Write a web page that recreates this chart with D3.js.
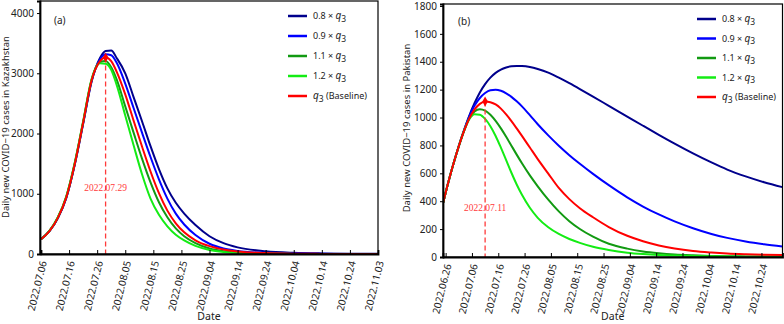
<!DOCTYPE html>
<html>
<head>
<meta charset="utf-8">
<script src="https://cdn.jsdelivr.net/npm/d3@7"></script>
<style>
  body { margin: 0; background: #fff; }
  svg { display: block; font-family: "Noto Sans", sans-serif; }
</style>
</head>
<body>
<div id="chart"></div>
<script>
// ---- Kazakhstan (a) ----
const kzStart = "2022.07.06";
const kzEnd = "2022.11.03";
const kzDay = [0, 3, 6, 9, 12, 15, 18, 21, 23, 25, 27, 30, 33, 36, 39, 42, 45, 48, 51, 55, 60, 65, 70, 80, 90, 100, 110, 120];
const kz08 = [245, 378, 595, 930, 1480, 2160, 2860, 3255, 3370, 3380, 3250, 3000, 2600, 2200, 1790, 1410, 1090, 850, 670, 480, 295, 180, 110, 45, 20, 10, 6, 4];
const kz09 = [245, 379, 598, 935, 1485, 2170, 2870, 3230, 3315, 3300, 3170, 2830, 2420, 2010, 1610, 1240, 920, 670, 490, 315, 170, 92, 52, 18, 7, 3, 1, 0.5];
const kz11 = [245, 383, 606, 950, 1503, 2190, 2890, 3185, 3205, 3100, 2890, 2450, 2010, 1580, 1190, 860, 610, 425, 295, 180, 92, 47, 25, 7, 2, 0.5, 0, 0];
const kz12 = [245, 385, 610, 955, 1510, 2200, 2900, 3165, 3160, 3060, 2800, 2300, 1800, 1320, 920, 650, 460, 320, 225, 135, 68, 34, 18, 5, 1, 0, 0, 0];
const kzBase = [245, 380, 600, 940, 1490, 2180, 2880, 3200, 3260, 3200, 3020, 2650, 2210, 1780, 1370, 1010, 720, 510, 360, 228, 130, 75, 43, 15, 5, 2, 1, 0];
const kzTicks = ["2022.07.06", "2022.07.16", "2022.07.26", "2022.08.05", "2022.08.15", "2022.08.25", "2022.09.04", "2022.09.14", "2022.09.24", "2022.10.04", "2022.10.14", "2022.10.24", "2022.11.03"];
const kzYTicks = [0, 1000, 2000, 3000, 4000];
const kzPeak = "2022.07.29";

// ---- Pakistan (b) ----
const pkStart = "2022.06.25";
const pkEnd = "2022.11.01";
const pkDay = [0, 2, 4, 6, 8, 10, 12, 14, 16, 18, 20, 22, 24, 26, 28, 30, 33, 36, 40, 44, 48, 52, 57, 63, 70, 76, 82, 88, 95, 102, 108, 115, 122, 129];
const pk08 = [384, 534, 670, 796, 910, 1014, 1104, 1180, 1240, 1286, 1320, 1344, 1359, 1367, 1370, 1369, 1362, 1348, 1322, 1286, 1246, 1204, 1150, 1084, 1007, 941, 876, 813, 743, 678, 627, 578, 536, 501];
const pk09 = [384, 534, 670, 795, 908, 1008, 1086, 1140, 1176, 1196, 1200, 1192, 1174, 1148, 1116, 1080, 1017, 952, 872, 798, 730, 668, 596, 515, 428, 362, 305, 255, 206, 165, 137, 111, 91, 75];
const pk11 = [384, 534, 670, 794, 904, 994, 1044, 1060, 1050, 1020, 976, 922, 862, 798, 734, 672, 585, 507, 411, 327, 257, 201, 146, 95, 60, 40, 27, 18, 12, 8, 6, 4, 3, 2];
const pk12 = [384, 534, 670, 794, 904, 988, 1024, 1020, 990, 938, 868, 784, 694, 604, 520, 446, 353, 281, 213, 165, 129, 101, 73, 50, 31, 21, 14, 10, 7, 5, 3.5, 2.5, 2, 1.5];
const pkBase = [384, 534, 670, 794, 904, 994, 1058, 1098, 1115, 1110, 1094, 1064, 1022, 974, 922, 868, 785, 702, 598, 495, 415, 350, 285, 215, 152, 113, 83, 61, 43, 32, 25, 20, 16.5, 14];
const pkTicks = ["2022.06.26", "2022.07.06", "2022.07.16", "2022.07.26", "2022.08.05", "2022.08.15", "2022.08.25", "2022.09.04", "2022.09.14", "2022.09.24", "2022.10.04", "2022.10.14", "2022.10.24"];
const pkYTicks = [0, 200, 400, 600, 800, 1000, 1200, 1400, 1600, 1800];
const pkPeak = "2022.07.11";

const legendNames = ["0.8 × ", "0.9 × ", "1.1 × ", "1.2 × ", ""];
const colors = ["#00008c", "#0000ff", "#129a12", "#14ec14", "#ff0000"];

const parse = d3.timeParse("%Y.%m.%d");
const fmt = d3.timeFormat("%Y.%m.%d");

const svg = d3.select("#chart").append("svg")
    .attr("width", 784)
    .attr("height", 324);

function drawPanel(p) {
    const g = svg.append("g");
    const x = d3.scaleTime().domain([parse(p.start), parse(p.end)]).range([p.x0, p.x1]);
    const y = d3.scaleLinear().domain([0, p.yMax]).range([p.bottom, p.top]);
    const dates = p.days.map(d => d3.timeDay.offset(parse(p.start), d));

    g.append("clipPath").attr("id", "clip" + p.id)
        .append("rect")
        .attr("x", p.left).attr("y", p.top)
        .attr("width", p.right - p.left).attr("height", p.bottom - p.top);

    const line = d3.line()
        .curve(d3.curveMonotoneX)
        .x((d, i) => x(dates[i]))
        .y(d => y(d));

    const lines = g.append("g").attr("clip-path", "url(#clip" + p.id + ")");
    p.series.forEach((s, i) => {
        lines.append("path")
            .attr("d", line(s))
            .attr("fill", "none")
            .attr("stroke", colors[i])
            .attr("stroke-width", 2);
    });

    // peak marker + dashed drop line (baseline series)
    const peakV = d3.max(p.series[4]);
    const px = x(parse(p.peak));
    g.append("line")
        .attr("x1", px).attr("x2", px)
        .attr("y1", y(peakV)).attr("y2", p.bottom)
        .attr("stroke", "#ff3b3b")
        .attr("stroke-width", 1.3)
        .attr("stroke-dasharray", "5,3");
    g.append("path")
        .attr("d", d3.symbol(d3.symbolDiamond, 28)())
        .attr("transform", `translate(${px},${y(peakV)})`)
        .attr("fill", "#ff0000");
    g.append("text")
        .attr("x", px).attr("y", p.peakLabelY)
        .attr("text-anchor", "middle")
        .attr("font-family", "Liberation Serif")
        .attr("font-size", 9.5)
        .attr("fill", "#ff3b3b")
        .text(p.peak);

    // frame
    g.append("rect")
        .attr("x", p.left).attr("y", p.top)
        .attr("width", p.right - p.left).attr("height", p.bottom - p.top)
        .attr("fill", "none")
        .attr("stroke", "#000")
        .attr("stroke-width", 1.2);

    // x axis
    const xa = g.append("g")
        .attr("transform", `translate(0,${p.bottom})`)
        .call(d3.axisBottom(x)
            .tickValues(p.ticks.map(parse))
            .tickFormat(fmt)
            .tickSize(-4));
    xa.select(".domain").attr("stroke-width", 1.8);
    xa.selectAll("text")
        .attr("x", 0).attr("y", 0).attr("dy", "0.35em")
        .attr("transform", "translate(2,7) rotate(-76)")
        .attr("text-anchor", "end")
        .attr("font-size", 10)
        .attr("font-family", "Noto Sans")
        .attr("fill", "#222");

    // y axis
    const ya = g.append("g")
        .attr("transform", `translate(${p.left},0)`)
        .call(d3.axisLeft(y).tickValues(p.yTicks).tickFormat(d3.format("d")).tickSize(3).tickPadding(3));
    ya.select(".domain").attr("stroke-width", 1.8);
    ya.selectAll("text")
        .attr("font-size", 10)
        .attr("font-family", "Noto Sans")
        .attr("fill", "#222");

    // titles
    g.append("text")
        .attr("x", (p.left + p.right) / 2).attr("y", 320)
        .attr("text-anchor", "middle")
        .attr("font-size", 10.5)
        .attr("fill", "#222")
        .text("Date");
    g.append("text")
        .attr("transform", `translate(${p.titleX},${p.titleY}) rotate(-90)`)
        .attr("text-anchor", "middle")
        .attr("font-size", 9.5)
        .attr("fill", "#222")
        .text(p.yTitle);
    g.append("text")
        .attr("x", p.tagX).attr("y", p.tagY)
        .attr("font-size", 10)
        .attr("fill", "#222")
        .text(p.tag);

    // legend: 0.8, 0.9, 1.1, 1.2, baseline
    const lg = g.append("g").attr("transform", `translate(${p.legX},${p.legY})`);
    legendNames.forEach((name, i) => {
        const row = lg.append("g").attr("transform", `translate(0,${i * p.legStep})`);
        row.append("line")
            .attr("x1", 0).attr("x2", 19)
            .attr("stroke", colors[i])
            .attr("stroke-width", 2.5);
        const t = row.append("text")
            .attr("x", 25).attr("dy", "0.35em")
            .attr("font-size", 9)
            .attr("fill", "#222");
        t.append("tspan").text(name);
        t.append("tspan").attr("font-style", "italic").attr("font-size", 10).text("q");
        t.append("tspan").attr("font-size", 8.5).attr("dy", 2.5).text("3");
        if (i === 4) t.append("tspan").attr("dy", -2.5).text(" (Baseline)");
    });
}

drawPanel({
    id: "a", start: kzStart, end: kzEnd, days: kzDay,
    series: [kz08, kz09, kz11, kz12, kzBase],
    ticks: kzTicks, yTicks: kzYTicks, yMax: 4200, peak: kzPeak,
    left: 40, right: 378, top: 1, bottom: 254, x0: 41, x1: 378,
    peakLabelY: 191, yTitle: "Daily new COVID\u221219 cases in Kazakhstan",
    titleX: 9, titleY: 127, tag: "(a)", tagX: 54, tagY: 24,
    legX: 288, legY: 16, legStep: 20
});

drawPanel({
    id: "b", start: pkStart, end: pkEnd, days: pkDay,
    series: [pk08, pk09, pk11, pk12, pkBase],
    ticks: pkTicks, yTicks: pkYTicks, yMax: 1814, peak: pkPeak,
    left: 443, right: 782.5, top: 4, bottom: 257, x0: 443, x1: 782.5,
    peakLabelY: 211, yTitle: "Daily new COVID\u221219 cases in Pakistan",
    titleX: 410, titleY: 128, tag: "(b)", tagX: 458, tagY: 25,
    legX: 697, legY: 19, legStep: 19.5
});
</script>
</body>
</html>
